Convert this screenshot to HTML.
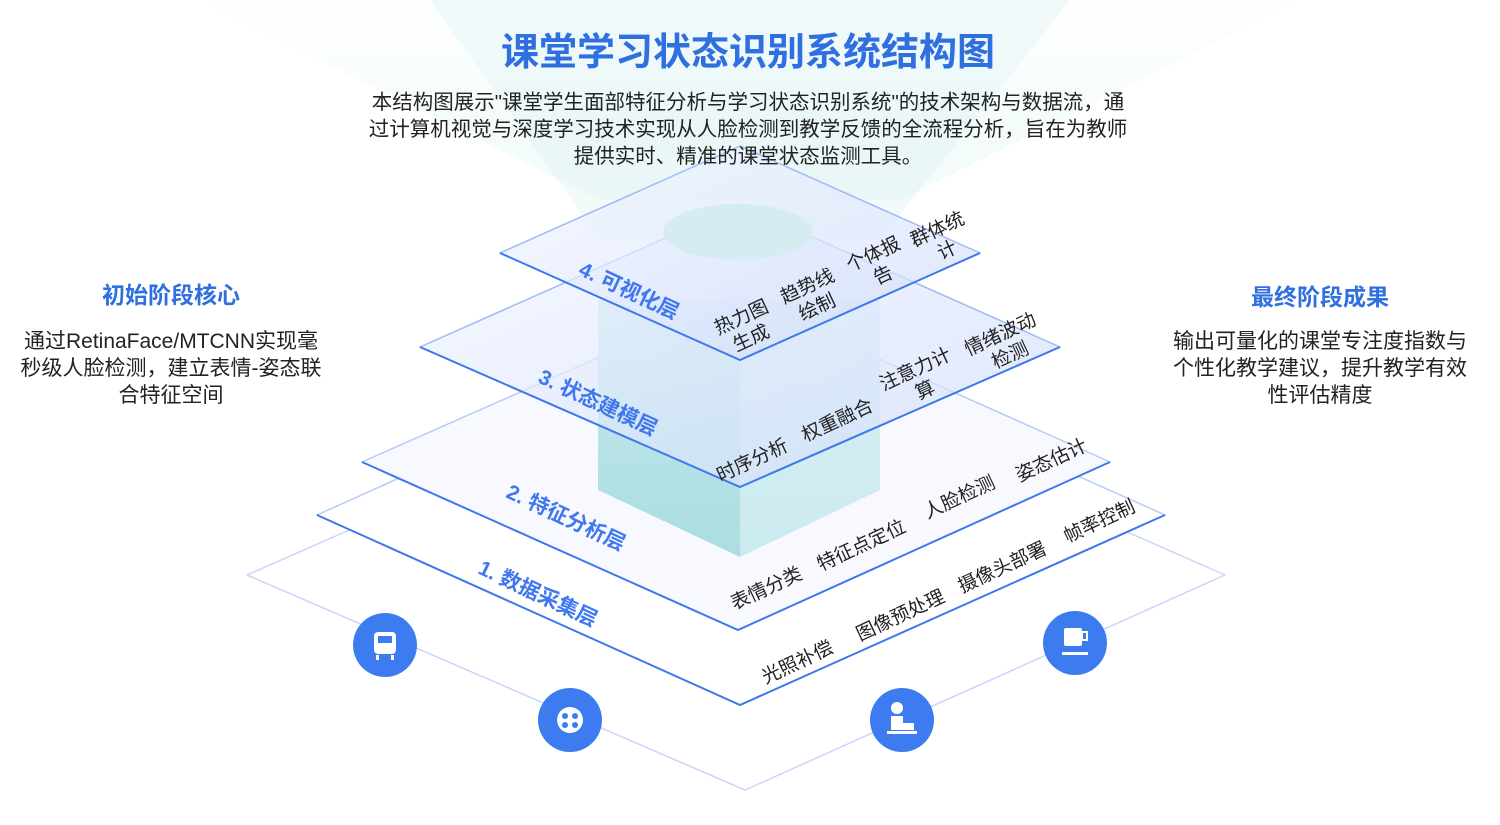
<!DOCTYPE html>
<html><head><meta charset="utf-8"><style>
body{margin:0;width:1500px;height:825px;background:#fff;overflow:hidden;font-family:"Liberation Sans","Noto Sans CJK SC",sans-serif;}
svg{position:absolute;left:0;top:0}
.t{font-family:"Liberation Sans","Noto Sans CJK SC",sans-serif;}
</style></head><body>
<svg width="1500" height="825" viewBox="0 0 1500 825">
<defs>
<linearGradient id="beam" x1="0" y1="0" x2="0" y2="1">
<stop offset="0" stop-color="#eef8f8" stop-opacity="0.1"/>
<stop offset="0.6" stop-color="#dcf3f2" stop-opacity="0.7"/>
<stop offset="1" stop-color="#d0eeee" stop-opacity="0.5"/>
</linearGradient>
<linearGradient id="lay" x1="0" y1="0" x2="1" y2="1">
<stop offset="0" stop-color="#f3f6ff" stop-opacity="0.7"/>
<stop offset="1" stop-color="#cfdcfa" stop-opacity="0.7"/>
</linearGradient>
<linearGradient id="boxL" x1="0" y1="0" x2="0" y2="1">
<stop offset="0" stop-color="#bfe6ea"/><stop offset="1" stop-color="#9dd8dc"/>
</linearGradient>
<linearGradient id="boxR" x1="0" y1="0" x2="0" y2="1">
<stop offset="0" stop-color="#d6eff2"/><stop offset="1" stop-color="#c3e8ec"/>
</linearGradient>
</defs>
<polygon points="200,0 1300,0 900,200 600,200" fill="url(#beam)" opacity="0.45"/>
<polygon points="430,0 1070,0 880,240 600,240" fill="#d9f2f1" opacity="0.35"/>

<polygon points="247,575 736,360 1225,575 745,790" fill="#fff" stroke="#c8d6fb" stroke-width="1.5" stroke-linejoin="round"/>
<polygon points="317,515 740,325 1165,515 740,705" fill="#fff" stroke="#b5cbf8" stroke-width="1.5" stroke-linejoin="round"/>
<polyline points="317,515 740,705 1165,515" fill="none" stroke="#3f78ee" stroke-width="2"/>
<polygon points="362,462 738,296 1110,462 738,630" fill="#f7f9ff" stroke="#b5cbf8" stroke-width="1.5" stroke-linejoin="round"/>
<polyline points="362,462 738,630 1110,462" fill="none" stroke="#3f78ee" stroke-width="2"/>
<polygon points="598,300 740,300 740,557 598,490" fill="url(#boxL)" opacity="0.85"/>
<polygon points="740,300 880,300 880,490 740,557" fill="url(#boxR)" opacity="0.85"/>
<polygon points="420,347 740,205 1060,347 740,487" fill="url(#lay)" stroke="#9fbaf6" stroke-width="1.5" stroke-linejoin="round"/>
<polyline points="420,347 740,487 1060,347" fill="none" stroke="#3f78ee" stroke-width="2"/>
<polygon points="500,253 740,146 980,253 740,360" fill="url(#lay)" stroke="#9fbaf6" stroke-width="1.5" stroke-linejoin="round"/>
<polyline points="500,253 740,360 980,253" fill="none" stroke="#3f78ee" stroke-width="2"/>
<ellipse cx="738" cy="232" rx="75" ry="28" fill="#d3ecef" opacity="0.9"/>

<g fill="#3d7bf0">
<circle cx="385" cy="645" r="32"/><circle cx="570" cy="720" r="32"/>
<circle cx="902" cy="720" r="32"/><circle cx="1075" cy="643" r="32"/>
</g>
<g fill="#fff">
<rect x="374" y="632" width="22" height="22" rx="4"/><rect x="378" y="636" width="14" height="7" fill="#3d7bf0"/>
<rect x="376" y="655" width="3" height="5"/><rect x="391" y="655" width="3" height="5"/>
<circle cx="570" cy="720" r="13"/><circle cx="565" cy="716" r="3" fill="#3d7bf0"/><circle cx="575" cy="716" r="3" fill="#3d7bf0"/><circle cx="565" cy="725" r="3" fill="#3d7bf0"/><circle cx="575" cy="725" r="3" fill="#3d7bf0"/>
<circle cx="897" cy="708" r="6"/><rect x="891" y="716" width="12" height="14"/><rect x="903" y="723" width="11" height="7"/><rect x="887" y="731" width="30" height="3"/>
<rect x="1064" y="628" width="18" height="18" rx="2"/><rect x="1082" y="632" width="5" height="8" fill="none" stroke="#fff" stroke-width="2"/><rect x="1062" y="652" width="26" height="3"/>
</g>

<g class="t" font-size="19" fill="#222" text-anchor="middle">
<g fill="#3f78ee" font-weight="bold" font-size="21">
<text transform="translate(535,600) rotate(25)">1. 数据采集层</text>
<text transform="translate(563,524) rotate(25)">2. 特征分析层</text>
<text transform="translate(595,409) rotate(25)">3. 状态建模层</text>
<text transform="translate(626,297) rotate(25)">4. 可视化层</text>
</g>
<text transform="translate(800,668) rotate(-25)">光照补偿</text>
<text transform="translate(903,621) rotate(-25)">图像预处理</text>
<text transform="translate(1005,573) rotate(-25)">摄像头部署</text>
<text transform="translate(1102,527) rotate(-25)">帧率控制</text>
<text transform="translate(769,594) rotate(-25)">表情分类</text>
<text transform="translate(864,551) rotate(-25)">特征点定位</text>
<text transform="translate(962,503) rotate(-25)">人脸检测</text>
<text transform="translate(1054,466) rotate(-25)">姿态估计</text>
<text transform="translate(755,466) rotate(-25)">时序分析</text>
<text transform="translate(840,426) rotate(-25)">权重融合</text>
<text transform="translate(918,375) rotate(-25)"><tspan x="0" y="0">注意力计</tspan><tspan x="0" y="23">算</tspan></text>
<text transform="translate(1003,340) rotate(-25)"><tspan x="0" y="0">情绪波动</tspan><tspan x="0" y="23">检测</tspan></text>
<text transform="translate(744,323) rotate(-25)"><tspan x="0" y="0">热力图</tspan><tspan x="0" y="23">生成</tspan></text>
<text transform="translate(810,292) rotate(-25)"><tspan x="0" y="0">趋势线</tspan><tspan x="0" y="23">绘制</tspan></text>
<text transform="translate(876,260) rotate(-25)"><tspan x="0" y="0">个体报</tspan><tspan x="0" y="23">告</tspan></text>
<text transform="translate(940,235) rotate(-25)"><tspan x="0" y="0">群体统</tspan><tspan x="0" y="23">计</tspan></text>
</g>

<g class="t" text-anchor="middle">
<text x="748" y="65" font-size="38" font-weight="bold" fill="#2f6fe0">课堂学习状态识别系统结构图</text>
<g font-size="20.5" fill="#222">
<text x="748" y="109">本结构图展示"课堂学生面部特征分析与学习状态识别系统"的技术架构与数据流，通</text>
<text x="748" y="136">过计算机视觉与深度学习技术实现从人脸检测到教学反馈的全流程分析，旨在为教师</text>
<text x="748" y="163">提供实时、精准的课堂状态监测工具。</text>
</g>
<g font-size="21" fill="#222">
<text x="171" y="348">通过RetinaFace/MTCNN实现毫</text>
<text x="171" y="375">秒级人脸检测，建立表情-姿态联</text>
<text x="171" y="402">合特征空间</text>
<text x="1320" y="348">输出可量化的课堂专注度指数与</text>
<text x="1320" y="375">个性化教学建议，提升教学有效</text>
<text x="1320" y="402">性评估精度</text>
</g>
<text x="171" y="303" font-size="23" font-weight="bold" fill="#2f6fe0">初始阶段核心</text>
<text x="1320" y="305" font-size="23" font-weight="bold" fill="#2f6fe0">最终阶段成果</text>
</g>
</svg>
</body></html>
